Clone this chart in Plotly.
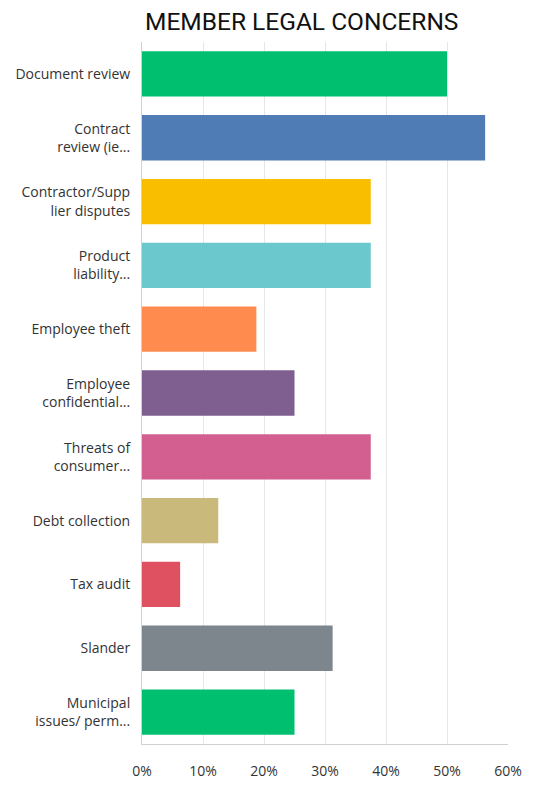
import plotly.graph_objects as go

categories = [
    "Document review",
    "Contract<br>review (ie...",
    "Contractor/Supp<br>lier disputes",
    "Product<br>liability...",
    "Employee theft",
    "Employee<br>confidential...",
    "Threats of<br>consumer...",
    "Debt collection",
    "Tax audit",
    "Slander",
    "Municipal<br>issues/ perm...",
]
values = [50.0, 56.25, 37.5, 37.5, 18.75, 25.0, 37.5, 12.5, 6.25, 31.25, 25.0]
colors = ["#00BF6F", "#507CB6", "#F9BE00", "#6BC8CD", "#FF8B4F", "#7F5E90",
          "#D25F90", "#C9B97A", "#DF5161", "#7D868C", "#00BF6F"]
tick_vals = [0, 10, 20, 30, 40, 50, 60]
tick_text = ["0%", "10%", "20%", "30%", "40%", "50%", "60%"]
title_text = "MEMBER LEGAL CONCERNS"

# page body has an 8px margin, so the figure is a little smaller than the window
W, H = 527, 782
fig = go.Figure(go.Bar(
    x=values, y=categories, orientation="h",
    marker=dict(color=colors, line=dict(width=0)),
    hoverinfo="skip",
))

fig.update_layout(
    width=W, height=H,
    margin=dict(l=134, r=27, t=34, b=46, autoexpand=False),
    paper_bgcolor="white", plot_bgcolor="white",
    bargap=0.29,
    showlegend=False,
    font=dict(family="Open Sans, sans-serif", size=14, color="#333"),
    title=dict(
        text=title_text,
        font=dict(family="Roboto, Liberation Sans, sans-serif",
                  size=24.5, color="#111"),
        xref="container", x=137 / W, xanchor="left",
        yref="container", y=1 - 13 / H, yanchor="middle",
    ),
)
fig.update_xaxes(
    range=[0, 60], tickvals=tick_vals, ticktext=tick_text,
    showgrid=True, gridcolor="#E6E6E6", gridwidth=1,
    showline=True, linecolor="#D0D0D0", linewidth=1,
    zeroline=False, ticks="", ticklabelstandoff=14,
    tickfont=dict(size=14, color="#333"),
)
fig.update_yaxes(
    autorange="reversed", showgrid=False,
    showline=True, linecolor="#D0D0D0", linewidth=1,
    ticks="", ticklabelstandoff=8,
    tickfont=dict(size=14, color="#333"),
)

fig.write_html("out.html")
